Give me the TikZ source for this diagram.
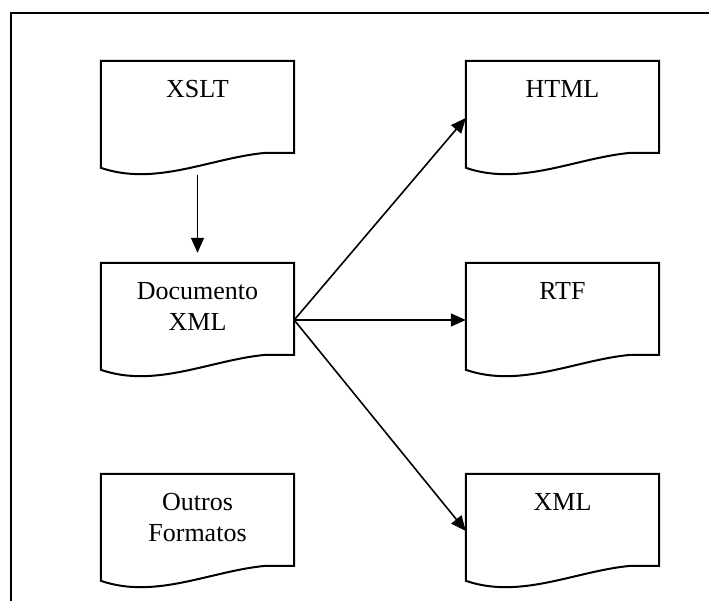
\documentclass[tikz,border=0pt]{standalone}
\usepackage{fontspec}
\setmainfont{Liberation Serif}
\usepackage{tikz}
\usetikzlibrary{calc, positioning, arrows.meta}

\begin{document}
\begin{tikzpicture}[x=1pt,y=-1pt,on grid,
    docbox/.style={rectangle,minimum width=193pt,minimum height=114pt,inner sep=0pt},
    doctext/.style={anchor=north,yshift=-19pt,inner sep=0pt,align=center,
                    font=\fontsize{26}{31}\selectfont},
    docline/.style={line width=2pt,line join=miter},
    seta/.style={line width=1.6pt,-{Triangle[length=15pt,width=13pt]}}]

      \useasboundingbox (0,0) rectangle (709,601);
      \draw[line width=2pt] (11,601) -- (11,13) -- (709,13);

      \node[docbox,label={[doctext]north:XSLT}]                      (xslt)   at (197.5,118) {};
      \node[docbox,label={[doctext]north:Documento\\XML}]            (doc)    [below=202pt of xslt] {};
      \node[docbox,label={[doctext]north:Outros\\Formatos}]          (outros) [below=211pt of doc] {};
      \node[docbox,label={[doctext]north:HTML}]                      (html)   [right=365pt of xslt] {};
      \node[docbox,label={[doctext]north:RTF}]                       (rtf)    [right=365pt of doc] {};
      \node[docbox,label={[doctext]north:XML}]                       (xml)    [right=365pt of outros] {};

      % contorno de documento com a borda ondulada
      \foreach \n in {xslt,doc,outros,html,rtf,xml}
        \draw[docline] (\n.north west) -- (\n.north east) -- ($(\n.north east)+(0,92)$)
          -- ($(\n.north west)+(165,92)$)
          .. controls ($(\n.north west)+(110,97)$) and ($(\n.north west)+(55,126)$) .. ($(\n.north west)+(0,107)$)
          -- cycle;

      \draw[seta,shorten >=10pt] (xslt.south) -- (doc.north);
      \draw[seta] (doc.east) -- (html.west);
      \draw[seta] (doc.east) -- (rtf.west);
      \draw[seta] (doc.east) -- (xml.west);
    \end{tikzpicture}
\end{document}
